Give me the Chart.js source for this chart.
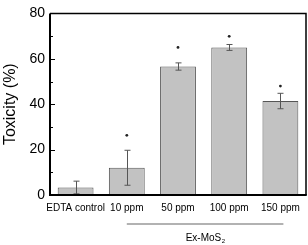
<!DOCTYPE html>
<html>
<head>
<meta charset="utf-8">
<script src="https://cdn.jsdelivr.net/npm/chart.js@4/dist/chart.umd.min.js"></script>
<style>
  html,body{margin:0;padding:0;background:#fff;}
  #wrap{width:308px;height:245px;position:relative;}
</style>
</head>
<body>
<div id="wrap"><canvas id="c"></canvas></div>
<script>
// Toxicity bar chart
const labels=['EDTA control','10 ppm','50 ppm','100 ppm','150 ppm'];
const toxicity=[3.3,12.0,56.6,65.0,41.4];
const errors=[2.8,7.7,1.6,1.3,3.4];
const starLevels=[null,26.3,65.0,69.9,48.0];
const majorTicks=[0,20,40,60,80];
const minorTicks=[10,30,50,70];

const FONT='"Liberation Sans", Arial, sans-serif';

const decor={
  id:'decor',
  afterDatasetsDraw(chart){
    const {ctx,chartArea:a,scales:{x,y}}=chart;
    ctx.save();
    // error bars
    ctx.strokeStyle='#555'; ctx.lineWidth=1;
    toxicity.forEach((v,i)=>{
      const cx=Math.round(x.getPixelForValue(i))+0.5;
      const t=y.getPixelForValue(v+errors[i]), b=y.getPixelForValue(Math.max(0,v-errors[i]));
      ctx.beginPath();
      ctx.moveTo(cx,t); ctx.lineTo(cx,b);
      ctx.moveTo(cx-3,t); ctx.lineTo(cx+3,t);
      ctx.moveTo(cx-3,b); ctx.lineTo(cx+3,b);
      ctx.stroke();
    });
    // significance marks
    ctx.fillStyle='#222';
    starLevels.forEach((s,i)=>{
      if(s==null) return;
      ctx.beginPath();
      ctx.arc(x.getPixelForValue(i),y.getPixelForValue(s),1.4,0,Math.PI*2);
      ctx.fill();
    });
    // frame
    ctx.strokeStyle='#000'; ctx.lineWidth=1.5;
    ctx.beginPath();
    ctx.moveTo(a.left,a.top); ctx.lineTo(a.right,a.top); ctx.lineTo(a.right,a.bottom);
    ctx.stroke();
    ctx.lineWidth=2;
    ctx.beginPath();
    ctx.moveTo(a.left,a.top); ctx.lineTo(a.left,a.bottom); ctx.lineTo(a.right+0.75,a.bottom);
    ctx.stroke();
    // inward ticks
    ctx.lineWidth=1.2;
    ctx.beginPath();
    majorTicks.forEach(t=>{const py=Math.round(y.getPixelForValue(t))+0.5; ctx.moveTo(a.left,py); ctx.lineTo(a.left+5,py);});
    minorTicks.forEach(t=>{const py=Math.round(y.getPixelForValue(t))+0.5; ctx.moveTo(a.left,py); ctx.lineTo(a.left+3,py);});
    ctx.stroke();
    // y title
    ctx.fillStyle='#000';
    ctx.font='16px '+FONT;
    ctx.textAlign='center'; ctx.textBaseline='middle';
    ctx.translate(11,(a.top+a.bottom)/2);
    ctx.rotate(-Math.PI/2);
    ctx.fillText('Toxicity (%)',0,0);
    ctx.restore();
    // group line + label
    ctx.save();
    const x1=x.getPixelForValue(1), x2=x.getPixelForValue(4);
    ctx.strokeStyle='#999'; ctx.lineWidth=1.5;
    ctx.beginPath(); ctx.moveTo(x1,224); ctx.lineTo(x2+3,224); ctx.stroke();
    ctx.fillStyle='#000';
    ctx.font='10px '+FONT; ctx.textBaseline='middle'; ctx.textAlign='left';
    const main='Ex-MoS', w=ctx.measureText(main).width;
    ctx.font='6px '+FONT;
    const w2=ctx.measureText('2').width;
    const sx=(x1+x2+3)/2-(w+w2)/2;
    ctx.font='10px '+FONT;
    ctx.fillText(main,sx,238);
    ctx.font='6px '+FONT;
    ctx.fillText('2',sx+w+0.5,241.5);
    ctx.restore();
  }
};

new Chart(document.getElementById('c'),{
  type:'bar',
  data:{labels,datasets:[{data:toxicity,backgroundColor:'#c2c2c2',borderColor:'#555',borderWidth:1,
    barPercentage:0.7,categoryPercentage:1}]},
  options:{
    responsive:true,maintainAspectRatio:false,animation:false,
    layout:{padding:{top:7,right:2,left:0,bottom:0}},
    plugins:{legend:{display:false},tooltip:{enabled:false}},
    scales:{
      x:{
        grid:{display:false,drawTicks:false},border:{display:false},
        ticks:{color:'#000',font:{family:FONT,size:10},padding:7,maxRotation:0,autoSkip:false},
        afterFit(s){s.height=50;}
      },
      y:{
        min:0,max:80,
        grid:{display:false,drawTicks:false},border:{display:false},
        ticks:{stepSize:20,color:'#000',font:{family:FONT,size:14},padding:5},
        afterFit(s){s.width=50;}
      }
    }
  },
  plugins:[decor]
});
</script>
</body>
</html>
